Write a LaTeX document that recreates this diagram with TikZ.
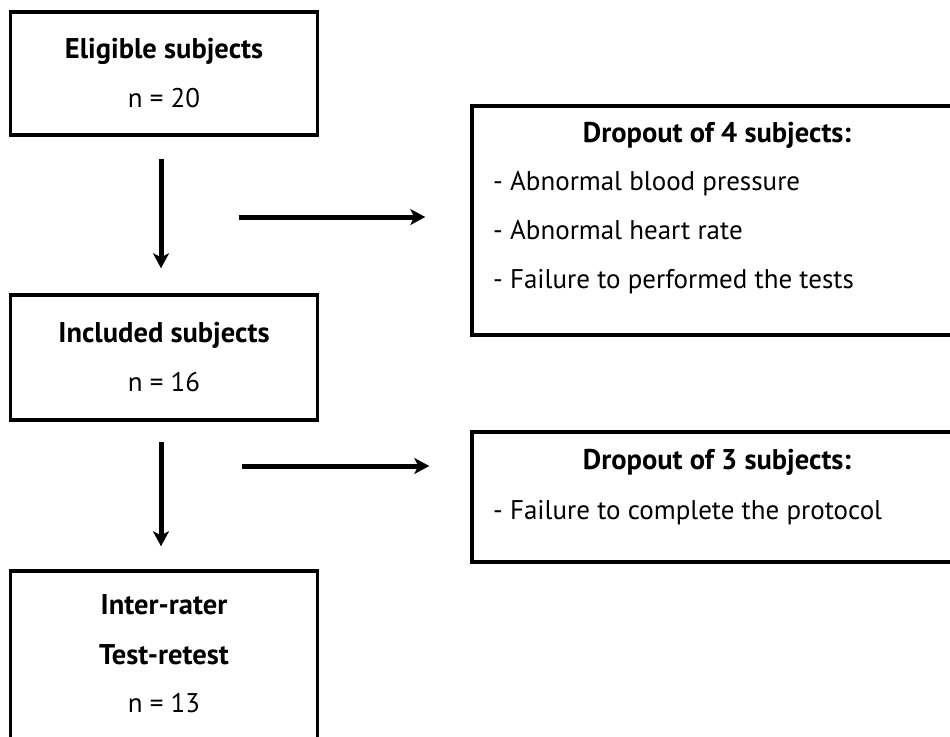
\documentclass[tikz,border=0pt]{standalone}
\usepackage{fontspec}
\setmainfont{PT Sans}
\usetikzlibrary{arrows.meta, positioning, calc}
\newcommand{\hd}[1]{{\fontsize{28.5}{49}\selectfont\bfseries #1}}

\begin{document}
\begin{tikzpicture}[
  x=1pt, y=-1pt,
  box/.style={draw, line width=3.5pt, minimum width=307pt, align=center, font=\fontsize{27}{49}\selectfont},
  dropbox/.style={draw, line width=3.5pt, minimum width=490pt},
  flow/.style={line width=5pt, -{Stealth[length=15pt, width=16pt, inset=4pt]}},
  txt/.style={font=\fontsize{27}{49}\selectfont, inner sep=0pt},
]
\clip (0,0) rectangle (950,736);

% left column
\node[box, minimum height=123pt] (elig) at (164,73.5) {\hd{Eligible subjects}\\n = 20};
\node[box, minimum height=125pt] (incl) at (164,357.5) {\hd{Included subjects}\\n = 16};
\node[box, minimum height=230pt] (final) at (164,686) {};
\node[txt] (inter) at (164,605) {\hd{Inter-rater}};
\node[txt] (retest) at (164,655) {\hd{Test-retest}};
\node[txt] (nfinal) at (164,703) {n = 13};

% dropout boxes
\node[dropbox, minimum height=229pt] (drop1) at (717,220.5) {};
\node[txt] (drop1title) at (717,135) {\hd{Dropout of 4 subjects:}};
\node[txt, anchor=west, align=left] (drop1list) at (493,233) {- Abnormal blood pressure\\- Abnormal heart rate\\- Failure to performed the tests};

\node[dropbox, minimum height=130pt] (drop2) at (717,497) {};
\node[txt] (drop2title) at (717,462) {\hd{Dropout of 3 subjects:}};
\node[txt, anchor=west] (drop2list) at (493,513) {- Failure to complete the protocol};

% arrows
\draw[flow, shorten <=22pt, shorten >=25pt] ([xshift=-3pt]elig.south) -- ([xshift=-3pt]incl.north);
\draw[flow, shorten <=20pt, shorten >=23pt] ([xshift=-3pt]incl.south) -- ([xshift=-3pt]final.north);

\coordinate (h1) at (239,217);
\coordinate (h2) at (242,466);
\draw[flow, shorten >=45pt] (h1) -- (h1 -| drop1.west);
\draw[flow, shorten >=41pt] (h2) -- (h2 -| drop2.west);

\end{tikzpicture}
\end{document}
